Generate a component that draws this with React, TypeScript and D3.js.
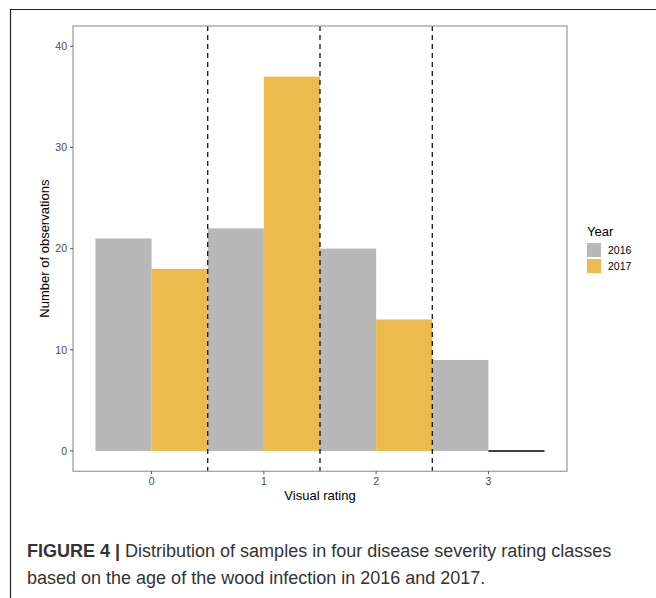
import React from 'react';
import * as d3 from 'd3';

const ratings = [0, 1, 2, 3];
const years = ['2016', '2017'];
const counts2016 = [21, 22, 20, 9];
const counts2017 = [18, 37, 13, 0];
const yTicks = [0, 10, 20, 30, 40];
const separators = [0.5, 1.5, 2.5];

const colours: Record<string, string> = { '2016': '#b8b8b8', '2017': '#edbb4d' };

const font = '"Liberation Sans", Arial, sans-serif';

export default function App() {
  const x = d3.scaleLinear().domain([-0.7, 3.7]).range([73, 567]);
  const y = d3.scaleLinear().domain([-2, 42]).range([471.25, 26]);
  const half = x(0.5) - x(0);

  const series = [
    { year: '2016', values: counts2016, offset: -1 },
    { year: '2017', values: counts2017, offset: 0 },
  ];

  const bars = series.flatMap(s =>
    s.values.map((v, i) => {
      const x0 = x(ratings[i]) + s.offset * half;
      if (v === 0) {
        return <line key={s.year + i} x1={x0} x2={x0 + half} y1={y(0)} y2={y(0)} stroke="#000" strokeWidth={1.3} />;
      }
      return <rect key={s.year + i} x={x0} y={y(v)} width={half} height={y(0) - y(v)} fill={colours[s.year]} />;
    })
  );

  const [left, right] = x.range();
  const [bottom, top] = y.range();

  return (
    <svg width={656} height={598} style={{ position: 'absolute', left: 0, top: 0 }} fontFamily={font}>
      <rect width={656} height={598} fill="#fff" />
      {/* outer frame */}
      <line x1={10} x2={656} y1={9.5} y2={9.5} stroke="#222" strokeWidth={1.2} />
      <line x1={10.5} x2={10.5} y1={9} y2={598} stroke="#222" strokeWidth={1.2} />

      {bars}

      {separators.map(s => (
        <line key={s} x1={x(s)} x2={x(s)} y1={top} y2={bottom} stroke="#000" strokeWidth={1.2} strokeDasharray="5,4" />
      ))}

      <rect x={left} y={top} width={right - left} height={bottom - top} fill="none" stroke="#999" strokeWidth={1.2} />

      {yTicks.map(t => (
        <g key={t} transform={`translate(0,${y(t)})`}>
          <line x1={left - 3} x2={left} stroke="#555" />
          <text x={left - 6} dy="0.35em" textAnchor="end" fontSize={10.5} fill="#4d4d4d">{t}</text>
        </g>
      ))}
      {ratings.map(r => (
        <g key={r} transform={`translate(${x(r)},0)`}>
          <line y1={bottom} y2={bottom + 3} stroke="#555" />
          <text y={bottom + 14} textAnchor="middle" fontSize={10.5} fill="#4d4d4d">{r}</text>
        </g>
      ))}

      <text x={(left + right) / 2} y={500} textAnchor="middle" fontSize={13} fill="#000">Visual rating</text>
      <text transform={`translate(49,${(top + bottom) / 2}) rotate(-90)`} textAnchor="middle" fontSize={13} fill="#000">
        Number of observations
      </text>

      <text x={587} y={236} fontSize={13} fill="#000">Year</text>
      {years.map((yr, i) => (
        <g key={yr} transform={`translate(587,${243 + i * 16})`}>
          <rect width={14} height={14} fill={colours[yr]} />
          <text x={21} y={7} dy="0.35em" fontSize={10.5} fill="#000">{yr}</text>
        </g>
      ))}

      <text x={27} y={557} fontSize={18} fill="#333">
        <tspan fontWeight="bold">FIGURE 4 |</tspan> Distribution of samples in four disease severity rating classes
      </text>
      <text x={27} y={584} fontSize={18} fill="#333">
        based on the age of the wood infection in 2016 and 2017.
      </text>
    </svg>
  );
}
